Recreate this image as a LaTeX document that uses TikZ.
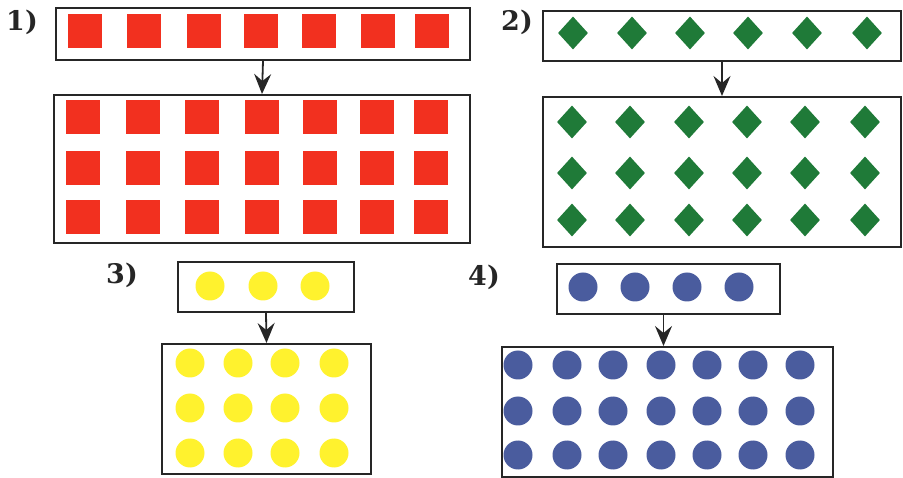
\documentclass[tikz,border=0pt]{standalone}
\usepackage{fontspec}
\newfontfamily\lblfont{DejaVu Serif}
\usetikzlibrary{shapes.geometric,arrows.meta}
\definecolor{sqred}{HTML}{F2301F}
\definecolor{dmgreen}{HTML}{1F7A38}
\definecolor{dtyellow}{HTML}{FFF22E}
\definecolor{dtblue}{HTML}{4A5C9E}
\tikzset{
  frame/.style={draw=black!85, line width=2pt, inner sep=0pt, fill=none},
  sq/.style={fill=sqred, inner sep=0pt, minimum size=34pt},
  dm/.style={diamond, fill=dmgreen, inner sep=0pt, minimum width=30pt, minimum height=33pt},
  ydot/.style={circle, fill=dtyellow, inner sep=0pt, minimum size=29pt},
  bdot/.style={circle, fill=dtblue, inner sep=0pt, minimum size=29pt},
  arr/.style={black!85, line width=1.8pt, arrows={-Stealth[length=20pt,width=17pt,inset=7pt]}},
  lbl/.style={font=\lblfont\fontsize{27}{27}\selectfont\bfseries, inner sep=0pt, text=black!85}
}
\begin{document}
\begin{tikzpicture}[x=1pt,y=-1pt]
\useasboundingbox (0,0) rectangle (903,478);
% labels
\node[lbl] (l1) at (22,22) {1)};
\node[lbl] (l2) at (517,22) {2)};
\node[lbl] (l3) at (122,275) {3)};
\node[lbl] (l4) at (484,277) {4)};
% panel 1
\node[frame, minimum width=414pt, minimum height=52pt] (b1t) at (263,34) {};
\node[frame, minimum width=416pt, minimum height=148pt] (b1b) at (262,169) {};
\foreach \x [count=\i] in {85,144,204,261,319,378,432}
  \node[sq] (s1t\i) at (\x,31) {};
\foreach \y [count=\j] in {117,168,217}
  \foreach \x [count=\i] in {83,143,202,262,320,377,431}
    \node[sq] (s1b\j\i) at (\x,\y) {};
\draw[arr] (b1t.south) -- (b1b.north);
% panel 2
\node[frame, minimum width=358pt, minimum height=50pt] (b2t) at (722,36) {};
\node[frame, minimum width=358pt, minimum height=150pt] (b2b) at (722,172) {};
\foreach \x [count=\i] in {573,632,690,748,807,867}
  \node[dm] (d2t\i) at (\x,33) {};
\foreach \y [count=\j] in {122,173,220}
  \foreach \x [count=\i] in {572,630,689,747,805,865}
    \node[dm] (d2b\j\i) at (\x,\y) {};
\draw[arr] (b2t.south) -- (b2b.north);
% panel 3
\node[frame, minimum width=176pt, minimum height=50pt] (b3t) at (266,287) {};
\node[frame, minimum width=209pt, minimum height=130pt] (b3b) at (266.5,409) {};
\foreach \x [count=\i] in {210,263,315}
  \node[ydot] (c3t\i) at (\x,286) {};
\foreach \y [count=\j] in {363,408,453}
  \foreach \x [count=\i] in {190,238,285,334}
    \node[ydot] (c3b\j\i) at (\x,\y) {};
\draw[arr] (b3t.south) -- (b3b.north);
% panel 4
\node[frame, minimum width=223pt, minimum height=50pt] (b4t) at (668.5,289) {};
\node[frame, minimum width=331pt, minimum height=130pt] (b4b) at (667.5,412) {};
\foreach \x [count=\i] in {583,635,687,739}
  \node[bdot] (c4t\i) at (\x,287) {};
\foreach \y [count=\j] in {365,411,455}
  \foreach \x [count=\i] in {518,567,613,661,707,753,800}
    \node[bdot] (c4b\j\i) at (\x,\y) {};
\draw[arr] ([xshift=-5pt]b4t.south) -- ([xshift=-5pt]b4t.south |- b4b.north);
\end{tikzpicture}
\end{document}
